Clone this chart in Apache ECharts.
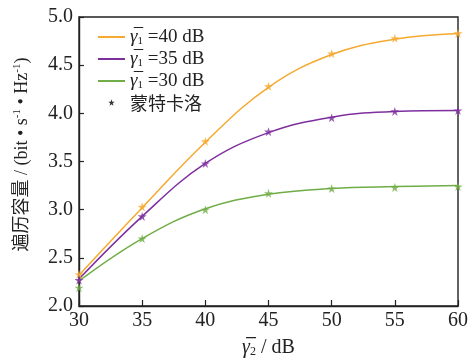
<!DOCTYPE html>
<html><head><meta charset="utf-8">
<script src="https://cdn.jsdelivr.net/npm/echarts@6/dist/echarts.min.js"></script>
<style>html,body{margin:0;padding:0;background:#fff}#c{width:471px;height:363px}</style>
</head><body><div id="c"></div>
<script>
const xValues = [30, 35, 40, 45, 50, 55, 60];
const theory40 = [2.32, 3.02, 3.70, 4.27, 4.61, 4.77, 4.83];
const theory35 = [2.28, 2.93, 3.48, 3.80, 3.96, 4.02, 4.03];
const theory30 = [2.26, 2.70, 3.01, 3.16, 3.22, 3.24, 3.25];
const mc40 = [2.33, 3.03, 3.71, 4.28, 4.62, 4.78, 4.83];
const mc35 = [2.27, 2.93, 3.48, 3.81, 3.955, 4.02, 4.03];
const mc30 = [2.19, 2.70, 3.00, 3.17, 3.22, 3.23, 3.24];
const seriesNames = ['40', '35', '30'];
const mcName = '蒙特卡洛';
const colors = ['#F5A92E', '#7E2F9E', '#70AD47'];
const STAR = 'path://M50,0L61,35L98,35L68,57L79,91L50,70L21,91L32,57L2,35L39,35Z';
const FONT = "'Liberation Serif','Noto Sans CJK SC',serif";

const pairs = arr => xValues.map((x, i) => [x, arr[i]]);
const theories = [theory40, theory35, theory30];
const mcs = [mc40, mc35, mc30];

const series = [];
theories.forEach((t, i) => {
  series.push({ name: seriesNames[i], type: 'line', smooth: 0.4, symbol: 'none', showSymbol: false,
    data: pairs(t), lineStyle: { color: colors[i], width: 1.5 }, itemStyle: { color: colors[i] }, z: 2 });
});
mcs.forEach((m, i) => {
  series.push({ name: 'mc' + i, type: 'scatter', symbol: STAR, symbolSize: 9,
    data: pairs(m), itemStyle: { color: colors[i] }, z: 3 });
});
series.push({ name: mcName, type: 'scatter', symbol: STAR, data: [], itemStyle: { color: '#000' } });

const chart = echarts.init(document.getElementById('c'));
chart.setOption({
  animation: false,
  textStyle: { fontFamily: FONT },
  grid: { left: 79, right: 13, top: 17, bottom: 50, show: true, borderColor: '#222', borderWidth: 1.4 },
  legend: {
    orient: 'vertical', left: 92, top: 21, itemWidth: 27, itemHeight: 14, itemGap: 0,
    data: seriesNames.map(n => ({ name: n, itemStyle: { opacity: 0 } })).concat([
      { name: mcName, icon: 'path://M-60,0M160,100M50,20L56,40L76,40L60,52L66,72L50,60L34,72L40,52L24,40L44,40Z' }]),
    formatter: n => mcName === n ? '{c|' + n + '}' : '{g|γ\u0305}{s|1} {t|=' + n + ' dB}',
    textStyle: { fontFamily: FONT, color: '#222', fontSize: 19, lineHeight: 22,
      rich: {
        g: { fontFamily: FONT, fontStyle: 'italic', fontSize: 19, color: '#222' },
        s: { fontFamily: FONT, fontSize: 11, color: '#222', padding: [8, 0, 0, 0] },
        t: { fontFamily: FONT, fontSize: 19, color: '#222' },
        c: { fontFamily: "'Noto Sans CJK SC',serif", fontSize: 18, color: '#222' }
      } }
  },
  xAxis: {
    type: 'value', min: 30, max: 60, interval: 5,
    name: '{g|γ\u0305}{s|2}{t| / dB}', nameLocation: 'middle', nameGap: 32,
    nameTextStyle: { rich: {
      g: { fontFamily: FONT, fontStyle: 'italic', fontSize: 20, color: '#222' },
      s: { fontFamily: FONT, fontSize: 12, color: '#222', padding: [8, 0, 0, 0] },
      t: { fontFamily: FONT, fontSize: 20, color: '#222' } } },
    axisLine: { lineStyle: { color: '#222', width: 1.4 } },
    axisTick: { inside: true, length: 6, lineStyle: { color: '#222', width: 1.2 } },
    axisLabel: { fontFamily: FONT, fontSize: 20, color: '#222', margin: 5 },
    splitLine: { show: false }
  },
  yAxis: {
    type: 'value', min: 2.0, max: 5.0, interval: 0.5,
    name: '{c|遍历容量 / (bit • s}{p|-1}{c| • Hz}{p|-1}{c|)}', nameLocation: 'middle', nameGap: 47,
    nameTextStyle: { padding: [0, 0, 0, 14], rich: {
      c: { fontFamily: FONT, fontSize: 18, color: '#222' },
      p: { fontFamily: FONT, fontSize: 11, color: '#222', padding: [0, 0, 9, 0] } } },
    axisLine: { lineStyle: { color: '#222', width: 1.4 } },
    axisTick: { inside: true, length: 5, lineStyle: { color: '#222', width: 1.2 } },
    axisLabel: { fontFamily: FONT, fontSize: 20, color: '#222', margin: 6, formatter: v => v.toFixed(1) },
    splitLine: { show: false }
  },
  series
});
</script></body></html>
